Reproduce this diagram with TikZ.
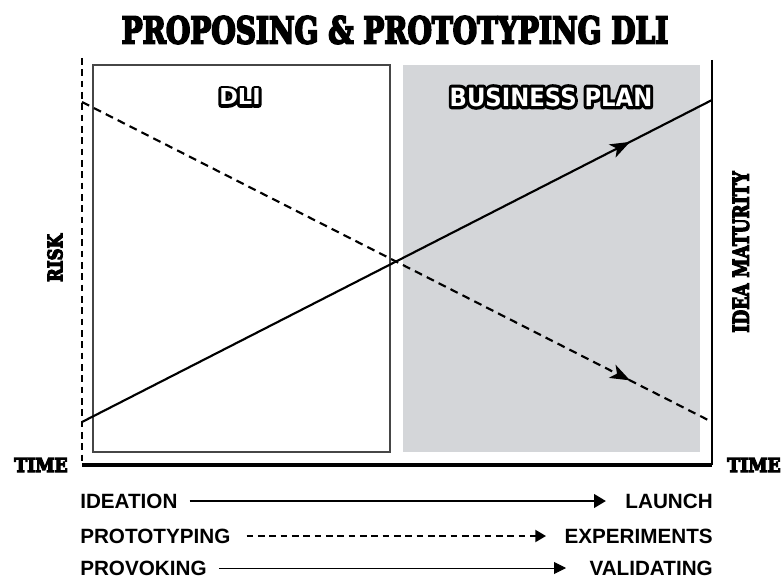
\documentclass[tikz,border=0pt]{standalone}
\usepackage{fontspec}
\usetikzlibrary{arrows.meta,decorations.markings}
\setmainfont{Liberation Sans}
\newfontfamily\heavyfont{DejaVu Serif}
\newfontfamily\blockfont{DejaVu Sans}
\newcommand{\outlinedtext}[1]{\special{pdf:literal direct 1 Tr 2.6 w 0 G 0 g 1 J 1 j}#1\special{pdf:literal direct 0 Tr 0 g 0 G 0 J 0 j}}
\newcommand{\thicktext}[2]{\special{pdf:literal direct 2 Tr #1 w 0 G 0 g}#2\special{pdf:literal direct 0 Tr 0 g 0 G}}
\definecolor{planfill}{RGB}{212,214,217}
\definecolor{boxline}{RGB}{70,70,70}
\tikzset{
  heavy/.style={inner sep=0pt, text=black},
  legend/.style={inner sep=0pt, font=\fontsize{15.5}{17}\selectfont\bfseries},
  areabox/.style={draw=boxline, line width=0.9pt, inner sep=0pt},
  planbox/.style={fill=planfill, inner sep=0pt},
  outlined/.style={inner sep=0pt},
  trendsolid/.style={line width=1.6pt, postaction={decorate},
    decoration={markings, mark=at position 0.87 with {\arrow{Stealth[length=15pt,width=11pt,inset=4pt]}}}},
  trenddash/.style={line width=1.6pt, dash pattern=on 6pt off 4pt, postaction={decorate},
    decoration={markings, mark=at position 0.87 with {\arrow{Stealth[length=15pt,width=11pt,inset=4pt]}}}},
}
\begin{document}
\begin{tikzpicture}[x=0.75pt,y=-0.75pt]
\useasboundingbox (0,0) rectangle (781,581);

% title
\node[heavy] (title) at (395,30) {\resizebox{410pt}{20.5pt}{\heavyfont\bfseries\fontsize{28}{30}\selectfont\thicktext{1.6}{PROPOSING \& PROTOTYPING DLI}}};

% areas
\node[areabox, minimum width=297*0.75pt, minimum height=387*0.75pt] (dlibox) at (241.5,258.5) {};
\node[planbox, minimum width=297*0.75pt, minimum height=387*0.75pt] (planbox) at (551.5,258.5) {};

% outlined labels: black stroke behind, white letters on top
\node[outlined] (dlishadow) at (240,97) {\resizebox{31pt}{12pt}{\blockfont\bfseries\outlinedtext{DLI}}};
\node[outlined, text=white] (dlilabel) at (240,97) {\resizebox{31pt}{12pt}{\blockfont\bfseries DLI}};
\node[outlined] (planshadow) at (551,97) {\resizebox{152pt}{14pt}{\blockfont\bfseries\outlinedtext{BUSINESS PLAN}}};
\node[outlined, text=white] (planlabel) at (551,97) {\resizebox{152pt}{14pt}{\blockfont\bfseries BUSINESS PLAN}};

% axes
\coordinate (ltop) at (82,58);
\coordinate (orig) at (82,465);
\coordinate (rbot) at (712,465);
\coordinate (rtop) at (712,60);
\draw[line width=1.5pt, dash pattern=on 5pt off 3.5pt] (ltop) -- (orig);
\draw[line width=1.6pt] (rtop) -- (rbot);
\draw[line width=3pt] (orig) -- (rbot);

% trend lines
\coordinate (s0) at (82,422);
\coordinate (s1) at (712,100);
\coordinate (d0) at (82,102);
\coordinate (d1) at (712,422);
\draw[trendsolid] (s0) -- (s1);
\draw[trenddash] (d0) -- (d1);

% axis labels
\node[heavy, rotate=90] (risk) at (55,258) {\resizebox{36pt}{11pt}{\heavyfont\bfseries\fontsize{15}{16}\selectfont\thicktext{0.9}{RISK}}};
\node[heavy, rotate=90] (maturity) at (741,252) {\resizebox{121pt}{12pt}{\heavyfont\bfseries\fontsize{16}{17}\selectfont\thicktext{0.9}{IDEA MATURITY}}};
\node[heavy] (timeL) at (41,465) {\resizebox{40pt}{10.5pt}{\heavyfont\bfseries\fontsize{14}{15}\selectfont\thicktext{0.9}{TIME}}};
\node[heavy] (timeR) at (754,465) {\resizebox{40pt}{10.5pt}{\heavyfont\bfseries\fontsize{14}{15}\selectfont\thicktext{0.9}{TIME}}};

% legend
\node[legend, anchor=west] (ideation) at (80,501) {IDEATION};
\node[legend, anchor=east] (launch) at (713,501) {LAUNCH};
\node[legend, anchor=west] (prototyping) at (80,536) {PROTOTYPING};
\node[legend, anchor=east] (experiments) at (713,536) {EXPERIMENTS};
\node[legend, anchor=west] (provoking) at (80,568) {PROVOKING};
\node[legend, anchor=east] (validating) at (713,568) {VALIDATING};

\coordinate (e1) at (606,501);
\coordinate (e2) at (546,536);
\coordinate (e3) at (566,568);
\draw[line width=2.2pt, -{Triangle[length=9pt,width=10pt]}] ([xshift=9pt]ideation.east) -- (e1);
\draw[line width=1.5pt, dash pattern=on 5pt off 3.5pt, -{Triangle[length=8pt,width=9pt]}] ([xshift=12pt]prototyping.east) -- (e2);
\draw[line width=0.7pt, -{Triangle[length=9pt,width=9pt]}] ([xshift=9pt]provoking.east) -- (e3);
\end{tikzpicture}
\end{document}
